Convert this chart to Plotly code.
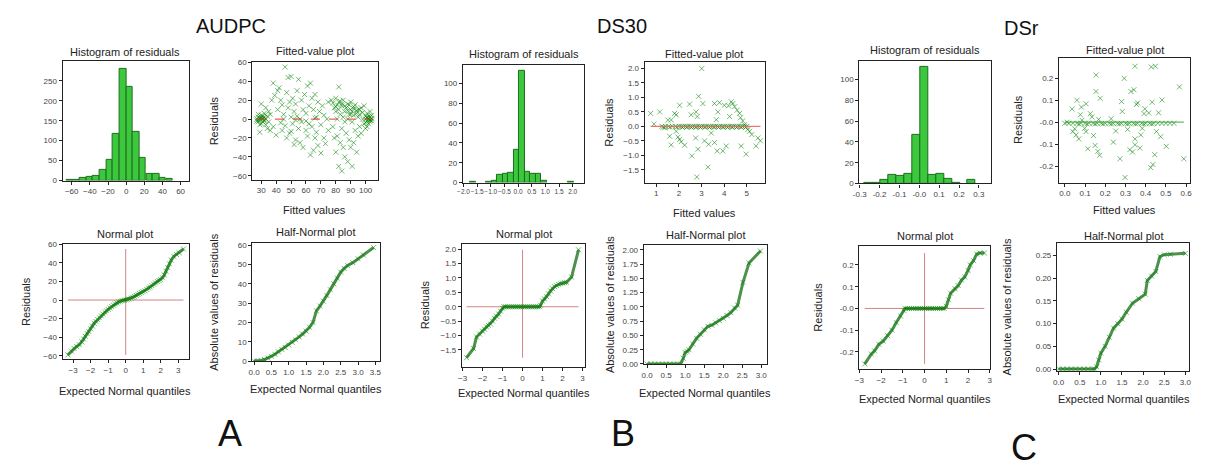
import plotly.graph_objects as go

W, H = 1208, 470

# ---------------- DATA ----------------
# Panel A (AUDPC)
histA_centers = [-62.3, -55.0, -47.7, -40.3, -33.0, -25.7, -18.3, -11.0, -3.7, 3.7, 11.0, 18.3, 25.7, 33.0, 40.3, 47.7]
histA_counts = [1, 2, 6, 8, 12, 27, 51, 116, 281, 236, 122, 57, 16, 16, 6, 4]
histA_width = 7.33

fitA_x = [27, 28, 28, 29, 29, 30, 30, 31, 31, 32, 32, 33, 27, 28, 29, 30, 31, 32, 33, 34, 30, 29, 33, 34, 35, 36, 35, 36,
          38, 37, 38, 39, 40, 41, 41, 42, 43, 43, 44, 44, 45, 46, 46, 47, 47, 48, 48, 49, 49, 50, 50, 51, 51, 52, 52, 53,
          53, 54, 54, 55, 55, 56, 57, 57, 58, 58, 59, 60, 60, 61, 61, 62, 62, 63, 63, 64, 64, 65, 65, 66, 66, 67, 67, 68,
          68, 69, 70, 70, 71, 72, 72, 73, 74, 75, 75, 45, 56, 60, 66, 50, 53,
          77, 78, 78, 79, 79, 80, 80, 80, 81, 81, 81, 82, 82, 82, 83, 83, 83, 84, 84, 84, 85, 85, 85, 86, 86, 87, 87, 88,
          88, 88, 89, 89, 90, 90, 90, 91, 91, 91, 92, 92, 92, 93, 93, 94, 94, 95, 95, 95, 96, 96, 97, 97, 98, 98, 99,
          80, 82, 84, 86, 88, 90, 92, 94, 96, 86, 89,
          100, 100, 100, 101, 101, 101, 102, 102, 102, 103, 103, 103, 104, 104, 104, 100, 103, 99, 101,
          28, 29, 31, 32, 102, 103, 101, 104]
fitA_y = [0, 2, -3, 1, -1, 4, -5, 0, 3, -2, 6, -6, -2, 5, -6, 1, -3, 2, 0, 3, 16, -14, 12, -10, -3, 5, 8, -12,
          38, 20, -8, 25, -17, 10, 30, 33, -4, 20, 15, -12, 5, 55, -7, 28, -20, 44, 12, 18, -15, 45, -13, 22, -5, 8, -27, 16,
          -22, 30, 3, 42, -10, -25, 20, -3, 10, -30, 26, -12, 6, 35, -18, 14, -5, 38, -38, -8, 22, -33, 10, -20, 26, 2, -14, 18,
          -28, 8, -6, -36, 14, -20, 4, -26, 0, -12, 18, 0, 0, -2, 1, 2, -1,
          20, 17, -8, 12, -20, 22, 8, -35, 15, 0, -18, 34, 10, -50, 19, 5, -25, 14, -55, -10, 20, 2, -30, 8, -40, 12, -15, 16,
          0, -45, 5, -22, 18, 10, -30, 8, -50, -3, 13, 4, -25, 15, -12, 6, -35, 10, 2, -18, -8, 5, 12, -15, 0, 7, -5,
          13, 18, 16, 14, 9, 5, 11, 9, 10, -3, 15,
          0, 3, -4, 1, -2, 6, 0, -5, 3, 2, -1, -3, 0, 4, -2, -10, 8, 14, -8,
          -1, 1, 1, -1, 1, -1, 2, 1]

normA_q = [-3.3, -3.1, -2.95, -2.8, -2.65, -2.5, -2.4, -2.3, -2.2, -2.1, -2.0, -1.9, -1.8, -1.7, -1.6, -1.5, -1.4, -1.3,
           -1.2, -1.1, -1.0, -0.9, -0.8, -0.7, -0.6, -0.5, -0.4, -0.3, -0.2, -0.1, 0.0, 0.1, 0.2, 0.3, 0.4, 0.5, 0.6, 0.7,
           0.8, 0.9, 1.0, 1.1, 1.2, 1.3, 1.4, 1.5, 1.6, 1.7, 1.8, 1.9, 2.0, 2.1, 2.2, 2.3, 2.4, 2.5, 2.6, 2.75, 2.9, 3.05, 3.3]
normA_r = [-59, -55, -52, -50, -48, -45, -42, -39, -36, -34, -31, -28, -25, -23, -21, -19, -17, -15,
           -13, -11.5, -10, -8.5, -7, -5.5, -4, -3, -2, -1.2, -0.6, -0.2, 0, 0.4, 1, 2, 3, 4, 5, 6,
           7, 8, 9, 10, 11.5, 13, 14, 15.5, 17, 18.5, 20, 21, 22, 24, 27, 31, 35, 39, 43, 47, 49, 51, 55]

halfA_q = [0.0, 0.1, 0.2, 0.3, 0.4, 0.5, 0.6, 0.7, 0.8, 0.9, 1.0, 1.1, 1.2, 1.3, 1.4, 1.5, 1.6, 1.7, 1.8, 1.9, 2.0,
           2.1, 2.2, 2.3, 2.4, 2.5, 2.6, 2.7, 2.85, 3.0, 3.15, 3.45]
halfA_r = [0, 0, 0.3, 0.8, 1.5, 2.5, 3.5, 4.8, 6, 7, 8.3, 9.7, 11, 12.5, 14, 15.5, 17.5, 20, 26, 28.5, 31,
           34, 37, 40, 43, 46, 48, 49.5, 51, 53, 55, 58.8]

# Panel B (DS30)
histB_centers = [-1.66, -1.06, -0.86, -0.66, -0.46, -0.26, -0.06, 0.14, 0.34, 0.54, 0.74, 0.94, 1.94]
histB_counts = [1, 1, 2, 8, 9, 10, 33, 113, 11, 9, 9, 2, 1]
histB_width = 0.2

fitB_x = [0.75, 1.15, 0.9, 1.37, 1.51, 1.66, 1.81, 1.88, 1.59, 1.66, 1.88, 1.96, 2.03, 2.1, 2.03, 2.25, 2.47, 2.54,
          2.57, 2.74, 2.76, 2.81, 2.84, 2.79, 2.87, 3.01, 3.06, 3.13, 3.28, 3.31, 3.43, 3.57, 3.57, 3.65, 3.69, 3.72,
          3.79, 3.94, 4.01, 4.09, 4.19, 4.24, 4.31, 4.38, 4.46, 4.57, 4.68, 4.72, 4.75, 4.82, 4.9, 4.97, 5.04, 5.12,
          5.22, 5.41, 5.49, 5.6,
          1.25, 1.4, 1.55, 1.7, 1.85, 2.0, 2.1, 2.2, 2.3, 2.4, 2.5, 2.6, 2.7, 2.8, 2.9, 3.0, 3.1, 3.2, 3.3, 3.4, 3.5,
          3.6, 3.7, 3.8, 3.9, 4.0, 4.1, 4.2, 4.3, 4.4, 4.5, 4.6, 4.7, 4.8, 4.9, 5.0,
          1.3, 1.6, 1.9, 2.15, 2.35, 2.55, 2.75, 2.95, 3.15, 3.35, 3.55, 3.75, 3.95, 4.15, 4.35, 4.55, 4.75, 4.95]
fitB_y = [0.45, 0.5, 0.08, -0.05, 0.22, 0.22, 0.45, 0.4, -0.34, -0.64, -0.17, -0.37, -0.45, -0.53, 0.73, -0.65, 0.77, 0.4,
          -1.02, -0.4, 0.5, 0.34, -0.79, -1.75, 1.04, 2.0, 0.79, -0.5, -1.41, -0.62, -0.23, -0.56, 0.79, 0.23, -0.85, 0.5,
          0.82, -0.85, 0.73, -0.68, 0.71, 0.34, 0.85, 0.79, 0.68, 0.56, 0.45, 0.3, -0.68, 0.19, 0.06, -0.96, -0.11, -0.17,
          -0.28, -0.68, -0.4, -0.5,
          0, 0, 0, 0, 0, 0, 0, 0, 0, 0, 0, 0, 0, 0, 0, 0, 0, 0, 0, 0, 0,
          0, 0, 0, 0, 0, 0, 0, 0, 0, 0, 0, 0, 0, 0, 0,
          -0.03, -0.03, -0.03, -0.03, -0.03, -0.03, -0.03, -0.03, -0.03, -0.03, -0.03, -0.03, -0.03, -0.03, -0.03, -0.03,
          -0.03, -0.03]

normB_q = [-2.8, -2.45, -2.3, -2.15, -2.0, -1.9, -1.8, -1.7, -1.6, -1.5, -1.4, -1.3, -1.2, -1.1, -1.0, -0.93,
           -0.85, -0.75, -0.65, -0.55, -0.45, -0.35, -0.25, -0.15, -0.05, 0.05, 0.15, 0.25, 0.35, 0.45, 0.55, 0.65,
           0.75, 0.85, 0.9, 1.0, 1.1, 1.2, 1.3, 1.4, 1.5, 1.6, 1.7, 1.8, 1.9, 2.0, 2.1, 2.2, 2.45, 2.8]
normB_r = [-1.77, -1.45, -1.05, -0.95, -0.85, -0.78, -0.7, -0.65, -0.6, -0.5, -0.4, -0.33, -0.25, -0.15, -0.05, 0,
           0, 0, 0, 0, 0, 0, 0, 0, 0, 0, 0, 0, 0, 0, 0, 0,
           0, 0, 0.05, 0.2, 0.27, 0.35, 0.45, 0.55, 0.63, 0.7, 0.74, 0.78, 0.8, 0.82, 0.84, 0.85, 1.03, 1.98]

halfB_q = [0.0, 0.1, 0.2, 0.3, 0.4, 0.5, 0.6, 0.7, 0.8, 0.88, 0.95, 1.0, 1.05, 1.1, 1.2, 1.3, 1.4, 1.5, 1.6, 1.7,
           1.8, 1.9, 2.0, 2.1, 2.2, 2.3, 2.38, 2.52, 2.68, 2.98]
halfB_r = [0, 0, 0, 0, 0, 0, 0, 0, 0, 0, 0.1, 0.2, 0.22, 0.25, 0.35, 0.45, 0.52, 0.6, 0.66, 0.68,
           0.72, 0.76, 0.8, 0.85, 0.9, 0.98, 1.03, 1.43, 1.77, 1.98]

# Panel C (DSr)
histC_centers = [-0.256, -0.216, -0.176, -0.136, -0.096, -0.056, -0.016, 0.024, 0.064, 0.104, 0.144, 0.184, 0.264]
histC_counts = [1, 1, 3, 8, 7, 9, 47, 112, 8, 9, 4, 1, 3]
histC_width = 0.04

fitC_x = [0.011, 0.036, 0.039, 0.049, 0.06, 0.056, 0.069, 0.077, 0.085, 0.082, 0.105, 0.098, 0.105, 0.114, 0.126, 0.134,
          0.142, 0.15, 0.154, 0.155, 0.163, 0.172, 0.175, 0.167, 0.24, 0.252, 0.229, 0.273, 0.281, 0.284, 0.294, 0.298,
          0.311, 0.322, 0.327, 0.335, 0.342, 0.347, 0.347, 0.347, 0.355, 0.36, 0.371, 0.376, 0.383, 0.392, 0.396, 0.415,
          0.425, 0.432, 0.428, 0.436, 0.445, 0.448, 0.453, 0.464, 0.474, 0.481, 0.502, 0.567, 0.589,
          0.0, 0.02, 0.04, 0.06, 0.08, 0.1, 0.12, 0.14, 0.16, 0.18, 0.2, 0.22, 0.24, 0.26, 0.28, 0.3, 0.32, 0.34, 0.36,
          0.38, 0.4, 0.42, 0.44, 0.46, 0.48, 0.5, 0.52, 0.54,
          0.07, 0.11, 0.15, 0.19, 0.23, 0.27, 0.31, 0.35, 0.39, 0.43]
fitC_y = [0.0, 0.06, -0.043, -0.03, 0.1, -0.058, -0.076, 0.034, 0.009, 0.069, 0.084, -0.028, -0.043, -0.121, 0.039, 0.024,
          -0.061, -0.106, 0.14, 0.215, -0.133, -0.151, 0.109, 0.013, -0.091, -0.04, 0.016, -0.167, 0.094, 0.049, 0.2, -0.252,
          -0.033, -0.125, 0.14, -0.136, 0.148, 0.255, -0.076, -0.103, 0.081, 0.088, -0.118, -0.058, -0.028, 0.039, 0.061, 0.042,
          -0.207, 0.091, 0.252, -0.193, -0.148, 0.255, -0.043, 0.043, -0.066, 0.101, -0.11, 0.161, -0.167,
          -0.005, -0.005, -0.005, -0.005, -0.005, -0.005, -0.005, -0.005, -0.005, -0.005, -0.005, -0.005, -0.005, -0.005,
          -0.005, -0.005, -0.005, -0.005, -0.005, -0.005, -0.005, -0.005, -0.005, -0.005, -0.005, -0.005, -0.005, -0.005,
          -0.008, -0.008, -0.008, -0.008, -0.008, -0.008, -0.008, -0.008, -0.008, -0.008]

normC_q = [-2.75, -2.45, -2.3, -2.1, -1.9, -1.7, -1.5, -1.3, -1.1, -0.95, -0.9, -0.8, -0.7, -0.6, -0.5, -0.4, -0.3,
           -0.2, -0.1, 0.0, 0.1, 0.2, 0.3, 0.4, 0.5, 0.6, 0.7, 0.8, 0.9, 1.0, 1.1, 1.2, 1.4, 1.55, 1.7, 1.85, 2.0,
           2.1, 2.25, 2.4, 2.55, 2.75]
normC_r = [-0.255, -0.21, -0.195, -0.165, -0.15, -0.125, -0.1, -0.065, -0.035, -0.01, 0, 0, 0, 0, 0, 0, 0,
           0, 0, 0, 0, 0, 0, 0, 0, 0, 0, 0, 0, 0.01, 0.04, 0.07, 0.09, 0.105, 0.13, 0.145, 0.175,
           0.2, 0.22, 0.25, 0.255, 0.255]

halfC_q = [0.0, 0.1, 0.2, 0.3, 0.4, 0.5, 0.6, 0.7, 0.8, 0.85, 0.9, 0.95, 1.0, 1.1, 1.2, 1.3, 1.4, 1.5, 1.6, 1.75,
           1.9, 2.05, 2.1, 2.2, 2.3, 2.4, 2.5, 2.65, 3.0]
halfC_r = [0, 0, 0, 0, 0, 0, 0, 0, 0, 0, 0.005, 0.02, 0.035, 0.05, 0.07, 0.09, 0.1, 0.11, 0.125, 0.145,
           0.155, 0.165, 0.195, 0.205, 0.215, 0.248, 0.252, 0.253, 0.255]

# ---------------- STYLE / LAYOUT ----------------
FONT = "Liberation Sans, Arial, sans-serif"
MK = dict(symbol="x-thin", size=5, color="rgba(0,130,0,0.55)", line=dict(width=1, color="rgba(0,130,0,0.55)"))
BAR_FILL = "#3cc83c"
BAR_LINE = "#1f6a1f"
CROSS = "rgba(205,120,120,0.9)"
DENSE = "rgba(0,100,0,0.7)"

fig = go.Figure()
annotations = []


def ann(text, x, y, size=11, angle=0, color="#222"):
    annotations.append(dict(text=text, x=x / W, y=1 - y / H, xref="paper", yref="paper",
                            showarrow=False, textangle=angle, xanchor="center", yanchor="middle",
                            font=dict(family=FONT, size=size, color=color)))


axis_count = [0]


def new_axes(box, xr, yr, xt, yt, xtt=None, ytt=None):
    axis_count[0] += 1
    i = axis_count[0]
    s = str(i) if i > 1 else ""
    x0, y0, x1, y1 = box
    common = dict(showgrid=False, zeroline=False, showline=True, linecolor="#222", linewidth=1.2, mirror=True,
                  ticks="outside", ticklen=3, tickcolor="#222", tickangle=0,
                  tickfont=dict(family=FONT, size=8, color="#444"))
    xa = dict(domain=[x0 / W, x1 / W], range=xr, tickvals=xt, anchor="y" + s, **common)
    ya = dict(domain=[1 - y1 / H, 1 - y0 / H], range=yr, tickvals=yt, anchor="x" + s, **common)
    if xtt is not None:
        xa["ticktext"] = xtt
    if ytt is not None:
        ya["ticktext"] = ytt
    fig.layout["xaxis" + s] = xa
    fig.layout["yaxis" + s] = ya
    return ("x" + s, "y" + s)


def hist(box, centers, counts, width, xr, yr, xt, yt, xtt=None):
    xa, ya = new_axes(box, xr, yr, xt, yt, xtt)
    fig.add_trace(go.Bar(x=centers, y=counts, width=width, xaxis=xa, yaxis=ya,
                         marker=dict(color=BAR_FILL, line=dict(color=BAR_LINE, width=1))))


def fitted(box, xs, ys, xr, yr, xt, yt, ytt=None, linecolor="rgba(220,60,40,0.8)", dash="dash"):
    xa, ya = new_axes(box, xr, yr, xt, yt, None, ytt)
    fig.add_trace(go.Scatter(x=xs, y=ys, mode="markers", marker=MK, xaxis=xa, yaxis=ya))
    fig.add_trace(go.Scatter(x=[min(xs), max(xs)], y=[0, 0], mode="lines", xaxis=xa, yaxis=ya,
                             line=dict(color=linecolor, width=1.2, dash=dash)))


def normal(box, qs, rs, xr, yr, xt, yt, ytt=None):
    xa, ya = new_axes(box, xr, yr, xt, yt, None, ytt)
    fig.add_trace(go.Scatter(x=[min(qs), max(qs)], y=[0, 0], mode="lines", xaxis=xa, yaxis=ya,
                             line=dict(color=CROSS, width=1)))
    fig.add_trace(go.Scatter(x=[0, 0], y=[min(rs), max(rs)], mode="lines", xaxis=xa, yaxis=ya,
                             line=dict(color=CROSS, width=1)))
    fig.add_trace(go.Scatter(x=qs, y=rs, mode="lines", xaxis=xa, yaxis=ya, line=dict(color=DENSE, width=3)))
    fig.add_trace(go.Scatter(x=qs, y=rs, mode="markers", marker=MK, xaxis=xa, yaxis=ya))


def half(box, qs, rs, xr, yr, xt, yt, ytt=None):
    xa, ya = new_axes(box, xr, yr, xt, yt, None, ytt)
    fig.add_trace(go.Scatter(x=qs, y=rs, mode="lines", xaxis=xa, yaxis=ya, line=dict(color=DENSE, width=3)))
    fig.add_trace(go.Scatter(x=qs, y=rs, mode="markers", marker=MK, xaxis=xa, yaxis=ya))


# ---- Panel A ----
hist((57, 58, 184, 180), histA_centers, histA_counts, histA_width, [-70, 69], [0, 300],
     [-60, -40, -20, 0, 20, 40, 60], [0, 50, 100, 150, 200, 250])
fitted((248, 59, 374, 179), fitA_x, fitA_y, [24, 108], [-64, 60.5],
       [30, 40, 50, 60, 70, 80, 90, 100], [-60, -40, -20, 0, 20, 40, 60])
normal((57, 245, 184, 362), normA_q, normA_r, [-3.6, 3.6], [-63.5, 60],
       [-3, -2, -1, 0, 1, 2, 3], [-60, -40, -20, 0, 20, 40, 60])
half((248, 244, 376, 364), halfA_q, halfA_r, [-0.05, 3.62], [0, 61],
     [0, 0.5, 1, 1.5, 2, 2.5, 3, 3.5], [0, 10, 20, 30, 40, 50, 60])
fig.layout.xaxis4.tickformat = ".1f"

# ---- Panel B ----
hist((460, 62, 582, 182), histB_centers, histB_counts, histB_width, [-2.02, 2.42], [0, 119],
     [-2, -1.5, -1, -0.5, 0, 0.5, 1, 1.5, 2], [0, 20, 40, 60, 80, 100])
fig.layout.xaxis5.tickformat = ".1f"
fig.layout.xaxis5.tickfont.size = 6.5
fitted((643, 59, 764, 182), fitB_x, fitB_y, [0.49, 5.8], [-1.94, 2.23],
       [1, 2, 3, 4, 5], [-1.5, -1, -0.5, 0, 0.5, 1, 1.5, 2], linecolor="rgba(240,100,100,0.9)", dash="solid")
fig.layout.yaxis6.tickformat = ".1f"
normal((459, 245, 583, 370), normB_q, normB_r, [-3.03, 3.13], [-2.09, 2.17],
       [-3, -2, -1, 0, 1, 2, 3], [-1.5, -1, -0.5, 0, 0.5, 1, 1.5, 2])
fig.layout.yaxis7.tickformat = ".1f"
half((642, 246, 766, 367), halfB_q, halfB_r, [-0.09, 3.15], [0, 2.08],
     [0, 0.5, 1, 1.5, 2, 2.5, 3], [0, 0.25, 0.5, 0.75, 1, 1.25, 1.5, 1.75, 2])
fig.layout.xaxis8.tickformat = ".1f"
fig.layout.yaxis8.tickformat = ".2f"

# ---- Panel C ----
hist((859, 58, 992, 183), histC_centers, histC_counts, histC_width, [-0.302, 0.363], [0, 118],
     [-0.3, -0.2, -0.1, 0, 0.1, 0.2, 0.3], [0, 20, 40, 60, 80, 100],
     xtt=["-0.3", "-0.2", "-0.1", "-0.0", "0.1", "0.2", "0.3"])
fitted((1060, 55, 1192, 182), fitC_x, fitC_y, [-0.029, 0.62], [-0.275, 0.293],
       [0, 0.1, 0.2, 0.3, 0.4, 0.5, 0.6], [-0.2, -0.1, 0, 0.1, 0.2],
       ytt=["-0.2", "-0.1", "-0.0", "0.1", "0.2"], linecolor="rgba(60,170,60,0.8)", dash="solid")
fig.layout.xaxis10.tickformat = ".1f"
normal((859, 247, 991, 372), normC_q, normC_r, [-3.0, 3.03], [-0.278, 0.286],
       [-3, -2, -1, 0, 1, 2, 3], [-0.2, -0.1, 0, 0.1, 0.2], ytt=["-0.2", "-0.1", "-0.0", "0.1", "0.2"])
half((1058, 244, 1191, 374), halfC_q, halfC_r, [-0.04, 3.09], [-0.004, 0.277],
     [0, 0.5, 1, 1.5, 2, 2.5, 3], [0, 0.05, 0.1, 0.15, 0.2, 0.25])
fig.layout.xaxis12.tickformat = ".1f"
fig.layout.yaxis12.tickformat = ".2f"

# ---- Text ----
for (t, x, y) in [("Histogram of residuals", 120, 49), ("Fitted-value plot", 311, 48),
                  ("Normal plot", 120, 234), ("Half-Normal plot", 312, 232),
                  ("Histogram of residuals", 521, 51), ("Fitted-value plot", 703, 51),
                  ("Normal plot", 521, 234), ("Half-Normal plot", 704, 236),
                  ("Histogram of residuals", 925, 47), ("Fitted-value plot", 1126, 47),
                  ("Normal plot", 925, 237), ("Half-Normal plot", 1125, 237)]:
    ann(t, x, y, size=11)
for (t, x, y) in [("Fitted values", 311, 210), ("Fitted values", 703, 213), ("Fitted values", 1126, 210),
                  ("Expected Normal quantiles", 120, 395), ("Expected Normal quantiles", 312, 393),
                  ("Expected Normal quantiles", 521, 397), ("Expected Normal quantiles", 704, 397),
                  ("Expected Normal quantiles", 925, 403), ("Expected Normal quantiles", 1125, 403)]:
    ann(t, x, y, size=11)
for (t, x, y) in [("Residuals", 209, 119), ("Residuals", 20, 303), ("Residuals", 607, 120), ("Residuals", 422, 307),
                  ("Residuals", 1018, 118), ("Residuals", 818, 309),
                  ("Absolute values of residuals", 210, 304), ("Absolute values of residuals", 608, 306),
                  ("Absolute values of residuals", 1008, 309)]:
    ann(t, x, y, size=11, angle=-90)
ann("AUDPC", 227, 22, size=20, color="#111")
ann("DS30", 620, 22, size=20, color="#111")
ann("DSr", 1022, 24, size=20, color="#111")
ann("A", 225, 438, size=36, color="#111")
ann("B", 621, 438, size=36, color="#111")
ann("C", 1025, 452, size=36, color="#111")

fig.update_layout(width=W, height=H, margin=dict(l=0, r=0, t=0, b=0), showlegend=False,
                  paper_bgcolor="white", plot_bgcolor="white", annotations=annotations, bargap=0)
fig.write_html("out.html")
